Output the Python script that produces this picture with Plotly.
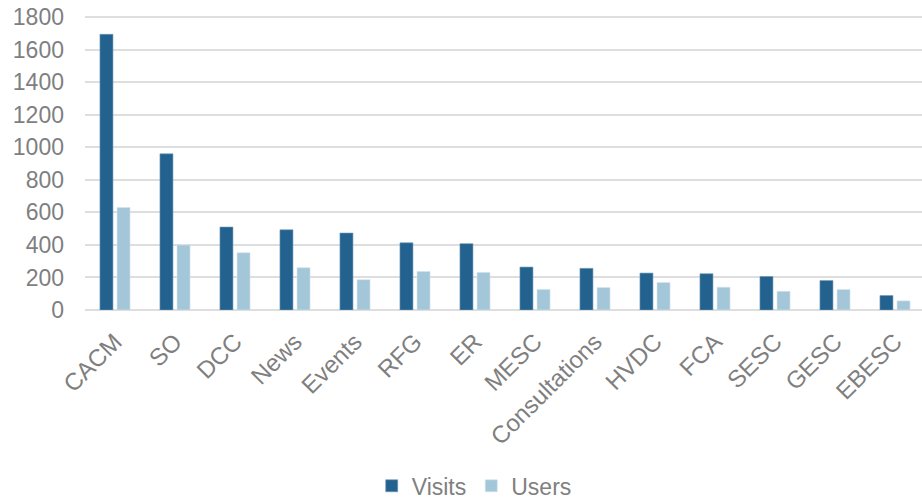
import plotly.graph_objects as go

categories = ["CACM", "SO", "DCC", "News", "Events", "RFG", "ER", "MESC",
              "Consultations", "HVDC", "FCA", "SESC", "GESC", "EBESC"]
visits = [1695, 960, 510, 493, 473, 413, 408, 264, 256, 227, 223, 206, 181, 89]
users = [630, 400, 352, 260, 186, 237, 231, 126, 138, 169, 140, 115, 126, 56]
y_ticks = [0, 200, 400, 600, 800, 1000, 1200, 1400, 1600, 1800]

font_family = "Liberation Sans, Arial, sans-serif"
gray = "#7f7f7f"

fig = go.Figure()
fig.add_trace(go.Bar(x=categories, y=visits, name="Visits",
                     marker=dict(color="#23628E", line=dict(color="#6f95b3", width=0.6))))
fig.add_trace(go.Bar(x=categories, y=users, name="Users",
                     marker=dict(color="#A3C6D9", line=dict(color="#d3e4ed", width=0.6))))

fig.update_layout(
    width=922, height=499,
    margin=dict(l=85, r=0, t=14, b=189, autoexpand=False),
    paper_bgcolor="white", plot_bgcolor="white",
    barmode="group", bargap=0.43, bargroupgap=0.24,
    font=dict(family=font_family, size=23, color=gray),
    showlegend=True,
    legend=dict(orientation="h", x=0.465, xanchor="center", y=-0.594, yanchor="middle",
                font=dict(size=23, color=gray), itemwidth=30, tracegroupgap=0),
    xaxis=dict(type="category", range=[-0.5, 13.45], tickangle=-45, automargin=False,
               showgrid=False, showline=False, ticks="", zeroline=False,
               ticklabelstandoff=12,
               tickfont=dict(size=24, color=gray)),
    yaxis=dict(range=[0, 1820], tickvals=y_ticks, showgrid=True, automargin=False,
               gridcolor="#dedede", gridwidth=1.5, zeroline=True,
               zerolinecolor="#dedede", zerolinewidth=1.5, showline=False,
               ticks="", ticklabelstandoff=20, ticklabeloverflow="allow",
               tickfont=dict(size=23, color=gray)),
)

fig.write_html("out.html", config={"displayModeBar": False},
               post_script="document.body.style.margin='0';")
